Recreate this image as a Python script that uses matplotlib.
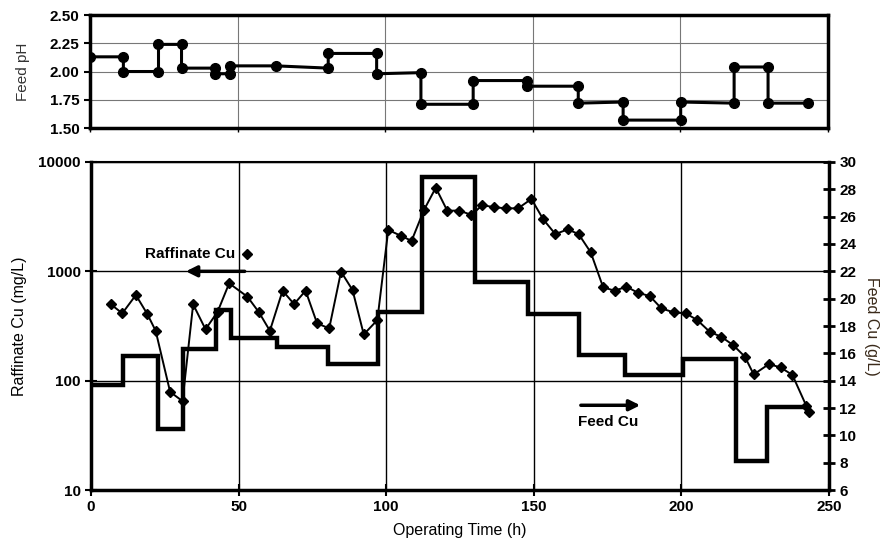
import matplotlib.pyplot as plt
import matplotlib.ticker as mticker

plt.rcParams['font.family'] = ['Liberation Sans', 'DejaVu Sans']

# Feed pH (step changes, a dot at each end of every period)
ph_time = [0, 11.3, 11.3, 23.2, 23.2, 31.0, 31.0, 42.3, 42.3, 47.4, 47.4, 63.0,
           80.7, 80.7, 97.1, 97.1, 112.1, 112.1, 129.8, 129.8, 148.1, 148.1,
           165.4, 165.4, 180.6, 180.6, 200.1, 200.1, 218.2, 218.2, 229.7, 229.7, 243.2]
ph_value = [2.13, 2.13, 2.00, 2.00, 2.24, 2.24, 2.03, 2.03, 1.98, 1.98, 2.05, 2.05,
            2.03, 2.16, 2.16, 1.98, 1.99, 1.71, 1.71, 1.92, 1.92, 1.87,
            1.87, 1.72, 1.73, 1.57, 1.57, 1.73, 1.72, 2.04, 2.04, 1.72, 1.72]

# Feed Cu (g/L), step function
feed_edges = [0, 11.0, 22.6, 31.0, 42.2, 47.3, 62.9, 80.4, 97.1, 112.0, 130.0,
              148.1, 165.2, 180.8, 200.4, 218.4, 229.1, 242.3]
feed_cu = [13.7, 15.8, 10.5, 16.3, 19.2, 17.1, 16.5, 15.2, 19.0, 28.9, 21.2,
           18.9, 15.9, 14.4, 15.6, 8.1, 12.1]

# Raffinate Cu (mg/L)
raf_time = [6.7, 10.6, 15.2, 19.1, 21.9, 26.8, 31.0, 34.6, 38.8, 42.9, 46.8,
            53.0, 56.9, 60.6, 64.9, 68.8, 72.7, 76.6, 80.7, 84.7, 88.6, 92.4,
            97.0, 100.7, 104.9, 108.6, 112.8, 116.8, 120.7, 124.7, 128.9, 132.6,
            136.6, 140.7, 144.7, 149.2, 153.2, 157.3, 161.5, 165.2, 169.3, 173.5,
            177.4, 181.4, 185.3, 189.3, 193.2, 197.4, 201.5, 205.4, 209.6, 213.5,
            217.5, 221.5, 224.5, 229.7, 233.6, 237.6, 242.3, 243.2]
raf_cu = [500, 413, 607, 406, 286, 79, 65, 499, 295, 427, 777,
          586, 422, 286, 665, 502, 665, 334, 301, 993, 674, 265,
          358, 2390, 2120, 1900, 3640, 5820, 3580, 3600, 3280, 4040,
          3850, 3770, 3770, 4590, 2990, 2190, 2420, 2190, 1490, 714,
          665, 723, 637, 594, 459, 421, 413, 358, 280, 252,
          212, 166, 114, 142, 132, 113, 59, 52]

x_ticks = [0, 50, 100, 150, 200, 250]
log_ticks = [10, 100, 1000, 10000]
log_labels = ['10', '100', '1000', '10000']

fig = plt.figure(figsize=(8.93, 5.48), dpi=100)

# ---- top panel: feed pH ----
ax_ph = fig.add_axes([0.1008, 0.7664, 0.8264, 0.2062])
ax_ph.plot(ph_time, ph_value, color='black', lw=2.2, marker='o', ms=7)
ax_ph.set_xlim(0, 250)
ax_ph.set_ylim(1.5, 2.5)
ax_ph.set_xticks(x_ticks)
ax_ph.set_xticklabels([])
ax_ph.set_yticks([1.5, 1.75, 2.0, 2.25, 2.5])
ax_ph.set_yticklabels(['1.50', '1.75', '2.00', '2.25', '2.50'])
ax_ph.grid(True, color='#777777', lw=0.8)
ax_ph.tick_params(axis='y', labelsize=11, length=4, width=1.5)
ax_ph.tick_params(axis='x', length=3, width=1)
for lab in ax_ph.get_yticklabels():
    lab.set_fontweight('bold')
for sp in ax_ph.spines.values():
    sp.set_linewidth(2.5)
ax_ph.set_ylabel('Feed pH', fontsize=11, color='#333333', labelpad=14)

# ---- bottom panel: raffinate Cu (log) + feed Cu ----
ax = fig.add_axes([0.1019, 0.1058, 0.8264, 0.5986])
ax.plot(raf_time, raf_cu, color='black', lw=1.4, marker='D', ms=5.5)
ax.set_yscale('log')
ax.set_xlim(0, 250)
ax.set_ylim(10, 10000)
ax.set_xticks(x_ticks)
ax.set_yticks(log_ticks)
ax.set_yticklabels(log_labels)
ax.yaxis.set_minor_locator(mticker.NullLocator())
ax.grid(True, axis='both', color='black', lw=1.0)
ax.tick_params(axis='both', labelsize=11, direction='inout', length=8, width=1.5)
for lab in ax.get_yticklabels() + ax.get_xticklabels():
    lab.set_fontweight('bold')
ax.spines['left'].set_linewidth(2.5)
ax.spines['bottom'].set_linewidth(2.5)
ax.spines['top'].set_linewidth(1.5)
ax.set_xlabel('Operating Time (h)', fontsize=11.5, labelpad=6)
ax.set_ylabel('Raffinate Cu (mg/L)', fontsize=11.5, labelpad=8)

ax2 = ax.twinx()
ax2.stairs(feed_cu, feed_edges, baseline=None, color='black', lw=3.2)
ax2.set_ylim(6, 30)
ax2.set_yticks(range(6, 31, 2))
ax2.tick_params(axis='y', labelsize=11, direction='inout', length=8, width=2)
for lab in ax2.get_yticklabels():
    lab.set_fontweight('bold')
ax2.spines['right'].set_linewidth(2.5)
ax2.set_ylabel('Feed Cu (g/L)', fontsize=11.5, rotation=-90, labelpad=16, color='#3a2a1a')

# in-plot labels with arrows
ax.annotate('', xy=(31.2, 1000), xytext=(53, 1000),
            arrowprops=dict(arrowstyle='-|>', lw=2.5, color='black', mutation_scale=16))
ax.text(48.8, 1440, 'Raffinate Cu', ha='right', va='center', fontsize=11, fontweight='bold')
ax.plot([52.8], [1440], marker='D', color='black', ms=5)

ax2.annotate('', xy=(187, 12.2), xytext=(165, 12.2),
             arrowprops=dict(arrowstyle='-|>', lw=2.5, color='black', mutation_scale=16))
ax2.text(165, 11.0, 'Feed Cu', ha='left', va='center', fontsize=11, fontweight='bold')

fig.savefig('out.png', dpi=100)
